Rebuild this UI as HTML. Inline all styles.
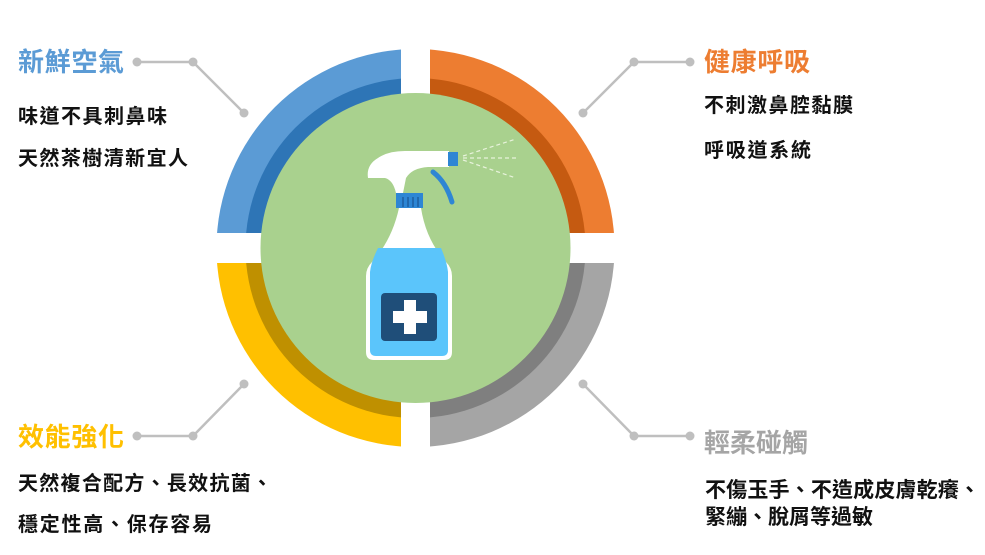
<!DOCTYPE html>
<html><head><meta charset="utf-8"><style>
html,body{margin:0;padding:0;background:#fff;}
svg{display:block;}
text{font-family:"Liberation Sans","Noto Sans CJK TC",sans-serif;}
</style></head><body>
<svg width="985" height="555" viewBox="0 0 985 555" xmlns="http://www.w3.org/2000/svg">
<defs>
<clipPath id="tl"><rect x="0" y="0" width="401" height="233"/></clipPath>
<clipPath id="tr"><rect x="430" y="0" width="600" height="233"/></clipPath>
<clipPath id="bl"><rect x="0" y="263" width="401" height="300"/></clipPath>
<clipPath id="br"><rect x="430" y="263" width="600" height="300"/></clipPath>
</defs>
<g clip-path="url(#tl)"><circle cx="415.5" cy="248" r="199" fill="#5b9bd5"/><circle cx="415.5" cy="248" r="170" fill="#2e75b6"/></g>
<g clip-path="url(#tr)"><circle cx="415.5" cy="248" r="199" fill="#ed7d31"/><circle cx="415.5" cy="248" r="170" fill="#c55a11"/></g>
<g clip-path="url(#bl)"><circle cx="415.5" cy="248" r="199" fill="#ffc000"/><circle cx="415.5" cy="248" r="170" fill="#bf9000"/></g>
<g clip-path="url(#br)"><circle cx="415.5" cy="248" r="199" fill="#a5a5a5"/><circle cx="415.5" cy="248" r="170" fill="#7f7f7f"/></g>
<circle cx="415.5" cy="248" r="155" fill="#a9d18e"/>

<g>
<path d="M433 172 Q446 182 452 202" stroke="#2e86d4" stroke-width="5" fill="none" stroke-linecap="round"/>
<path d="M368 178 Q366 165 378 158 Q388 151 405 151 L449 151 L449 167 L428 167 Q412 168 406 178 L403 193 L396 193 Q393 180 385 178 Z" fill="#fff"/>
<rect x="448" y="152" width="10" height="14" fill="#2e86d4"/>
<g stroke="#e8f3dc" stroke-width="1.2" stroke-dasharray="4,3">
<line x1="463" y1="156" x2="516" y2="139"/>
<line x1="463" y1="158" x2="516" y2="158"/>
<line x1="463" y1="160" x2="516" y2="178"/>
</g>
<rect x="396" y="193" width="27" height="15" fill="#2e86d4"/>
<g stroke="#1f5fa0" stroke-width="1.5"><line x1="403" y1="197" x2="403" y2="207"/><line x1="408" y1="197" x2="408" y2="207"/><line x1="413" y1="197" x2="413" y2="207"/><line x1="418" y1="197" x2="418" y2="207"/></g>
<path d="M399 208 L421 208 Q426 240 446 262 Q452 268 452 276 L452 352 Q452 360 444 360 L374 360 Q366 360 366 352 L366 276 Q366 268 372 262 Q392 240 399 208 Z" fill="#fff"/>
<path d="M378 248 L441 248 Q447 262 448 272 L448 350 Q448 356 442 356 L376 356 Q370 356 370 350 L370 272 Q371 262 378 248 Z" fill="#5bc5fb"/>
<rect x="381" y="293" width="56" height="48" rx="4" fill="#1f4e79"/>
<rect x="404" y="300" width="12" height="34" fill="#fff"/>
<rect x="393" y="311" width="34" height="12" fill="#fff"/>
</g>

<g stroke="#bfbfbf" stroke-width="2.5" fill="none">
<polyline points="137,62 193,62 244,113"/>
<polyline points="690,62 634,62 583,113"/>
<polyline points="137,436 193,436 244,384"/>
<polyline points="690,436 634,436 583,384"/>
</g>
<g fill="#bfbfbf">
<circle cx="137" cy="62" r="4.5"/><circle cx="193" cy="62" r="4.5"/><circle cx="244" cy="113" r="4.5"/>
<circle cx="690" cy="62" r="4.5"/><circle cx="634" cy="62" r="4.5"/><circle cx="583" cy="113" r="4.5"/>
<circle cx="137" cy="436" r="4.5"/><circle cx="193" cy="436" r="4.5"/><circle cx="244" cy="384" r="4.5"/>
<circle cx="690" cy="436" r="4.5"/><circle cx="634" cy="436" r="4.5"/><circle cx="583" cy="384" r="4.5"/>
</g>

<g font-size="26" font-weight="bold">
<text x="18" y="71" fill="#5b9bd5" textLength="106" lengthAdjust="spacing">新鮮空氣</text>
<text x="704" y="71" fill="#ed7d31" textLength="106" lengthAdjust="spacing">健康呼吸</text>
<text x="18" y="446" fill="#ffc000" textLength="106" lengthAdjust="spacing">效能強化</text>
<text x="704" y="452" fill="#a5a5a5" textLength="104" lengthAdjust="spacing">輕柔碰觸</text>
</g>
<g font-size="20" font-weight="bold" fill="#111">
<text x="18" y="123" textLength="149" lengthAdjust="spacing">味道不具刺鼻味</text>
<text x="18" y="165" textLength="170" lengthAdjust="spacing">天然茶樹清新宜人</text>
<text x="704" y="112" textLength="149" lengthAdjust="spacing">不刺激鼻腔黏膜</text>
<text x="704" y="157" textLength="107" lengthAdjust="spacing">呼吸道系統</text>
<text x="18" y="490" textLength="254" lengthAdjust="spacing">天然複合配方、長效抗菌、</text>
<text x="18" y="531" textLength="194" lengthAdjust="spacing">穩定性高、保存容易</text>
<text x="705" y="497" font-size="21" textLength="275" lengthAdjust="spacing">不傷玉手、不造成皮膚乾癢、</text>
<text x="705" y="524" font-size="21" textLength="168" lengthAdjust="spacing">緊繃、脫屑等過敏</text>
</g>
</svg>
</body></html>
